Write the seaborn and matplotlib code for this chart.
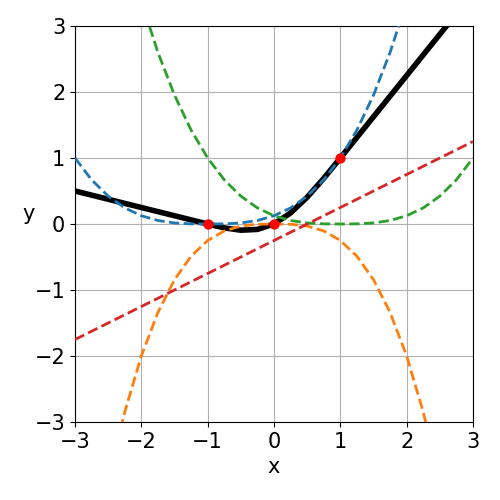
import matplotlib
matplotlib.use("Agg")
import matplotlib.pyplot as plt
import seaborn as sns
import pandas as pd

x_vals = [-3.0, -2.75, -2.5, -2.25, -2.0, -1.75, -1.5, -1.25, -1.0, -0.75, -0.5, -0.25,
          0.0, 0.25, 0.5, 0.75, 1.0, 1.25, 1.5, 1.75, 2.0, 2.25, 2.5, 2.75, 3.0]
spline_y = [0.5, 0.4375, 0.375, 0.3125, 0.25, 0.1875, 0.125, 0.0625, 0.0, -0.059, -0.094, -0.082,
            0.0, 0.168, 0.406, 0.691, 1.0, 1.3125, 1.625, 1.9375, 2.25, 2.5625, 2.875, 3.1875, 3.5]
blue_y = [1.0, 0.670, 0.422, 0.244, 0.125, 0.053, 0.016, 0.002, 0.0, 0.002, 0.016, 0.053,
          0.125, 0.244, 0.422, 0.670, 1.0, 1.424, 1.953, 2.600, 3.375, 4.291, 5.359, 6.592, 8.0]
orange_y = [-6.75, -5.199, -3.906, -2.848, -2.0, -1.340, -0.844, -0.488, -0.25, -0.105, -0.031, -0.004,
            0.0, -0.004, -0.031, -0.105, -0.25, -0.488, -0.844, -1.340, -2.0, -2.848, -3.906, -5.199, -6.75]
green_y = [8.0, 6.592, 5.359, 4.291, 3.375, 2.600, 1.953, 1.424, 1.0, 0.670, 0.422, 0.244,
           0.125, 0.053, 0.016, 0.002, 0.0, 0.002, 0.016, 0.053, 0.125, 0.244, 0.422, 0.670, 1.0]
red_y = [-1.75, -1.625, -1.5, -1.375, -1.25, -1.125, -1.0, -0.875, -0.75, -0.625, -0.5, -0.375,
         -0.25, -0.125, 0.0, 0.125, 0.25, 0.375, 0.5, 0.625, 0.75, 0.875, 1.0, 1.125, 1.25]
knot_x = [-1.0, 0.0, 1.0]
knot_y = [0.0, 0.0, 1.0]
ticks = [-3, -2, -1, 0, 1, 2, 3]

plt.rcParams['font.size'] = 15
plt.rcParams['axes.unicode_minus'] = True

fig = plt.figure(figsize=(5, 5), dpi=100)
ax = fig.add_axes([0.15, 0.156, 0.796, 0.792])

df = pd.DataFrame({"x": x_vals, "spline": spline_y, "b1": blue_y, "b2": orange_y,
                   "b3": green_y, "lin": red_y})

sns.lineplot(data=df, x="x", y="spline", color="black", linewidth=4, ax=ax, zorder=2)
for col, c in zip(["b1", "b2", "b3", "lin"], ["tab:blue", "tab:orange", "tab:green", "tab:red"]):
    sns.lineplot(data=df, x="x", y=col, color=c, linewidth=2, linestyle="--", ax=ax, zorder=3)
sns.scatterplot(x=knot_x, y=knot_y, color="red", s=55, edgecolor="red", linewidth=0, ax=ax, zorder=4)

ax.set_xlim(-3, 3)
ax.set_ylim(-3, 3)
ax.set_xticks(ticks)
ax.set_yticks(ticks)
ax.grid(True, color="#b0b0b0", linewidth=0.8)
ax.set_axisbelow(True)
ax.set_xlabel("x")
ax.set_ylabel("y", rotation=0, labelpad=4)

fig.savefig("out.png", dpi=100)
